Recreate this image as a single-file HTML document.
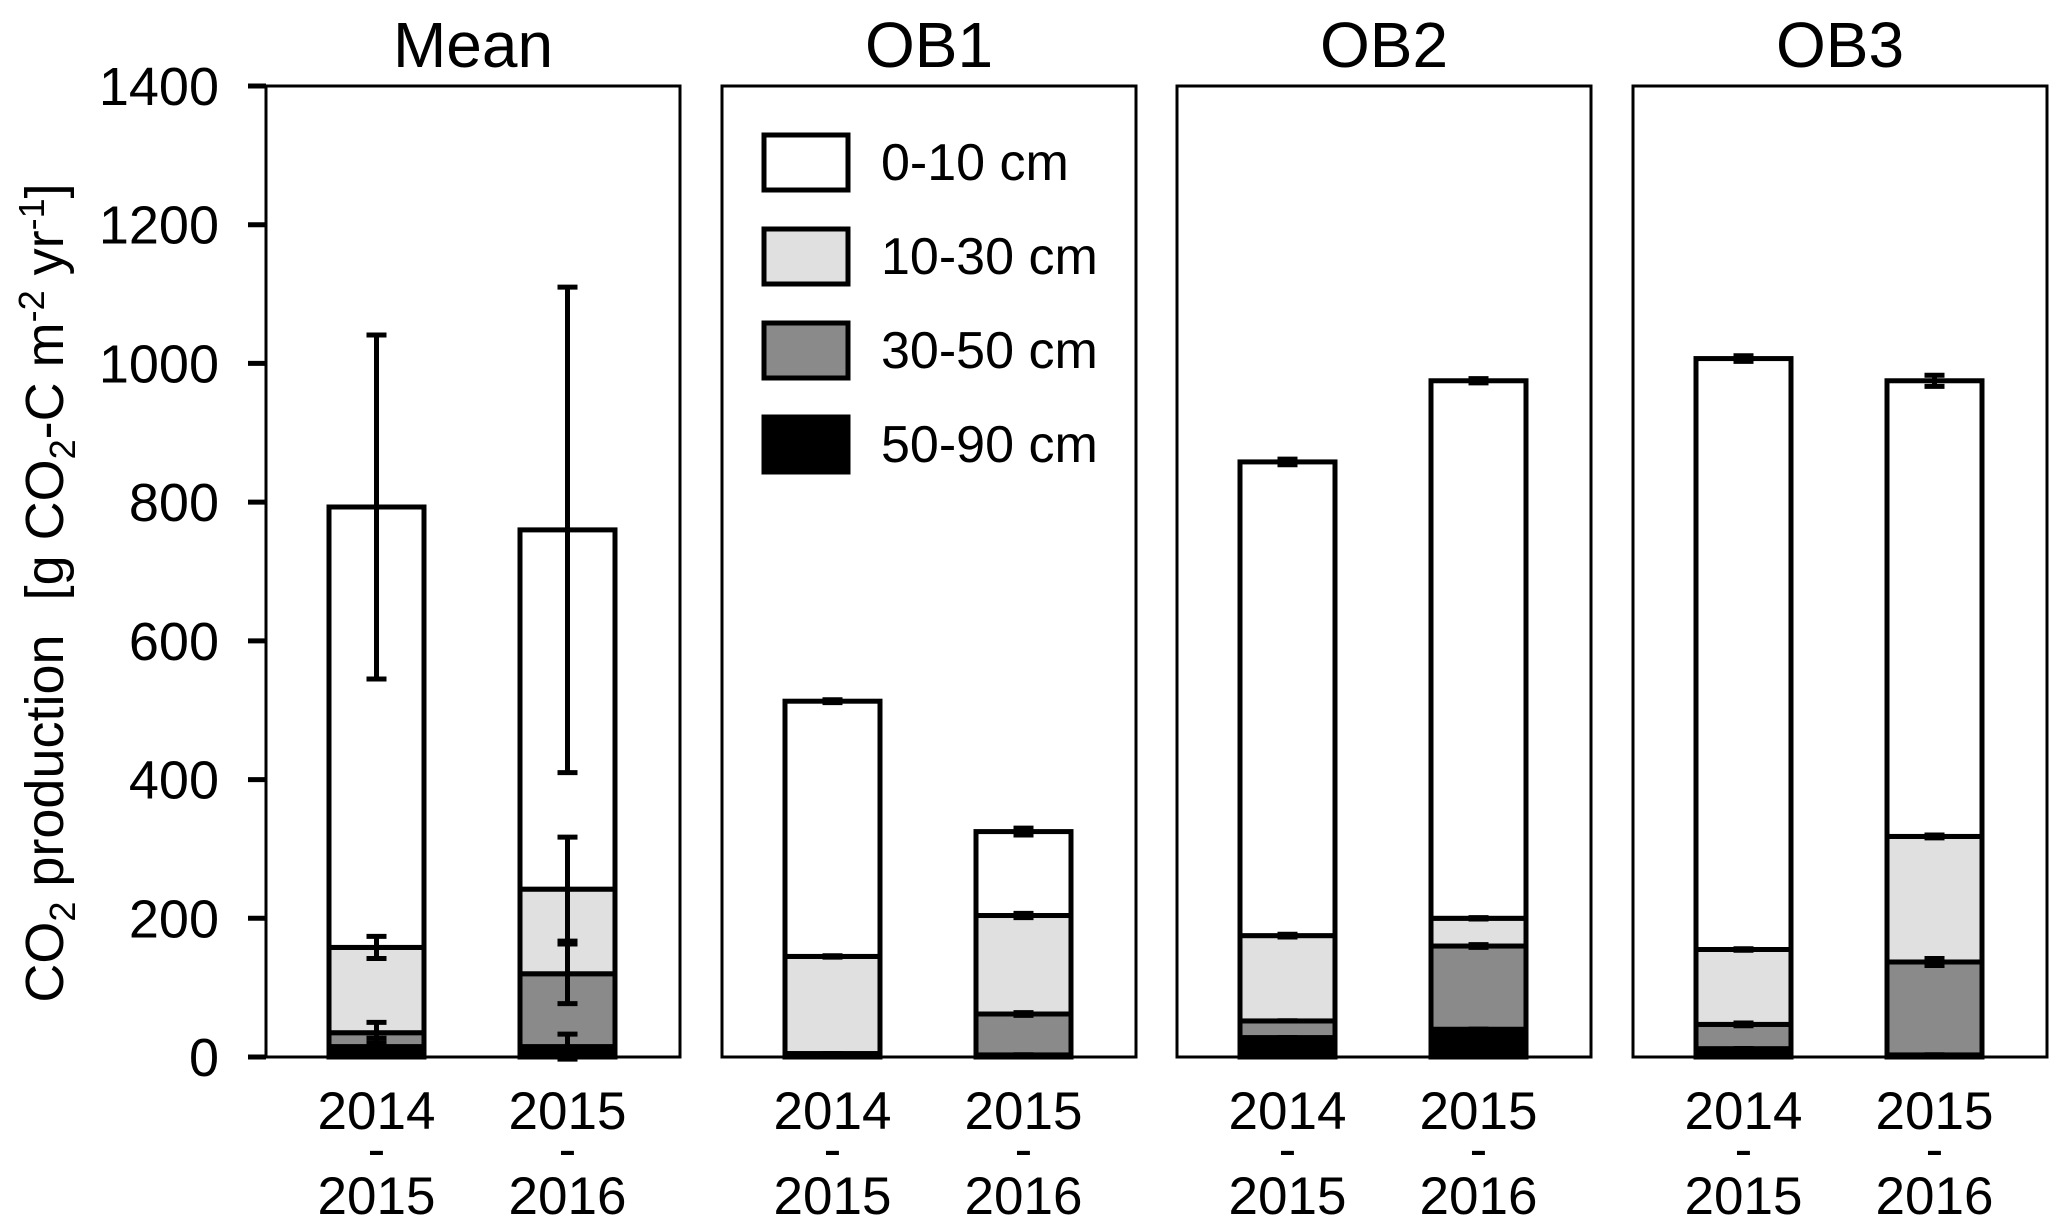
<!DOCTYPE html>
<html><head><meta charset="utf-8"><style>
body{margin:0;background:#fff}
svg{display:block;font-family:"Liberation Sans",Arial,sans-serif}
</style></head><body>
<svg id="c" width="2067" height="1230" xmlns="http://www.w3.org/2000/svg"></svg>
<script>
const panels = ["Mean","OB1","OB2","OB3"];
const periods = ["2014\n-\n2015","2015\n-\n2016"];
const layerNames = ["50-90 cm","30-50 cm","10-30 cm","0-10 cm"];
const layerFills = ["#000000","#8a8a8a","#e0e0e0","#ffffff"];
// layer values per bar: order Mean14, Mean15, OB1_14, OB1_15, OB2_14, OB2_15, OB3_14, OB3_15
const v5090 = [15, 15, 3, 3, 28, 40, 12, 3];
const v3050 = [20, 105, 2, 59, 24, 120, 35, 134];
const v1030 = [123, 122, 140, 142, 123, 40, 108, 181];
const v010 = [635, 518, 368, 121, 683, 775, 852, 657];
const e5090 = [12, 18, 0, 0, 0, 0, 0, 0];
const e3050 = [15, 43, 0, 2, 0, 2, 2, 5];
const e1030 = [16, 75, 1, 3, 2, 1, 1, 2];
const e010 = [248, 350, 2, 5, 4, 3, 4, 8];
const yTicks = [0,200,400,600,800,1000,1200,1400];

const svgEl = document.getElementById('c');
const NS = "http://www.w3.org/2000/svg";
const panelLeft = [266, 722, 1177, 1633], panelW = 414;
const yTop = 86, yBottom = 1057, yMax = 1400;
const yScale = v => yBottom - v / yMax * (yBottom - yTop);
const barOff = [63, 254], barW = 95;
function mk(tag, attrs, parent){const e=document.createElementNS(NS,tag);for(const k in attrs)e.setAttribute(k,attrs[k]);(parent||svgEl).appendChild(e);return e;}

const layers = [v5090, v3050, v1030, v010];
const errs = [e5090, e3050, e1030, e010];

panels.forEach((p, pi) => {
  const g = mk('g', {});
  
  
  const t = mk('text', {x: panelLeft[pi] + panelW/2, y: 67, 'font-size': 64, 'text-anchor': 'middle'}, g);
  t.textContent = p;
  
  
  periods.forEach((per, bi) => {
    const idx = pi * 2 + bi;
    const x0 = panelLeft[pi] + barOff[bi];
    let cum = 0;
    const tops = [];
    layers.forEach((arr, li) => {
      const v = arr[idx];
      const r = mk('rect', {x: x0, y: yScale(cum + v), width: barW, height: yScale(cum) - yScale(cum + v), fill: layerFills[li], stroke: '#000', 'stroke-width': 5}, g);
      
      
      cum += v;
      tops.push(cum);
    });
    tops.forEach((tv, li) => {
      const e = errs[li][idx];
      const cx = x0 + barW/2;
      const eg = mk('g', {stroke: '#000', 'stroke-width': 5}, g);
      
      
      const h = Math.max(yScale(tv - e) - yScale(tv + e), 3);
      mk('line', {x1: cx, x2: cx, y1: yScale(tv) - h/2, y2: yScale(tv) + h/2}, eg);
      mk('line', {x1: cx - 10, x2: cx + 10, y1: yScale(tv + e), y2: yScale(tv + e)}, eg);
      mk('line', {x1: cx - 10, x2: cx + 10, y1: yScale(tv - e), y2: yScale(tv - e)}, eg);
    });
    const lines = per.split('\n');
    lines.forEach((ln, k) => {
      const tx = mk('text', {x: x0 + barW/2, y: [1129, 1167, 1214][k], 'font-size': 53, 'text-anchor': 'middle'}, g);
      tx.textContent = ln;
      
      
    });
  });
  const fr = mk('rect', {x: panelLeft[pi], y: yTop, width: panelW, height: yBottom - yTop, fill: 'none', stroke: '#000', 'stroke-width': 3}, g);
  
  
});

yTicks.forEach(tv => {
  mk('line', {x1: 248, x2: 266, y1: yScale(tv), y2: yScale(tv), stroke: '#000', 'stroke-width': 5});
  const t = mk('text', {x: 219, y: yScale(tv) + 19, 'font-size': 54, 'text-anchor': 'end'});
  t.textContent = tv;
  
  
});

const yt = mk('text', {x: 0, y: 0, 'font-size': 54, 'text-anchor': 'middle', transform: 'translate(63,593) rotate(-90)'});


yt.innerHTML = 'CO<tspan dy="12" font-size="36">2</tspan><tspan dy="-12"> production</tspan><tspan dx="34">[g CO</tspan><tspan dy="12" font-size="36">2</tspan><tspan dy="-12">-C m</tspan><tspan dy="-19" font-size="36">-2</tspan><tspan dy="19"> yr</tspan><tspan dy="-19" font-size="36">-1</tspan><tspan dy="19">]</tspan>';

const legendOrder = [3, 2, 1, 0];
legendOrder.forEach((li, k) => {
  const g = mk('g', {});
  
  
  mk('rect', {x: 764, y: 135 + k*94, width: 84, height: 55, fill: layerFills[li], stroke: '#000', 'stroke-width': 5}, g);
  const t = mk('text', {x: 881, y: 180 + k*94, 'font-size': 52}, g);
  t.textContent = layerNames[li];
});
</script>
</body></html>
